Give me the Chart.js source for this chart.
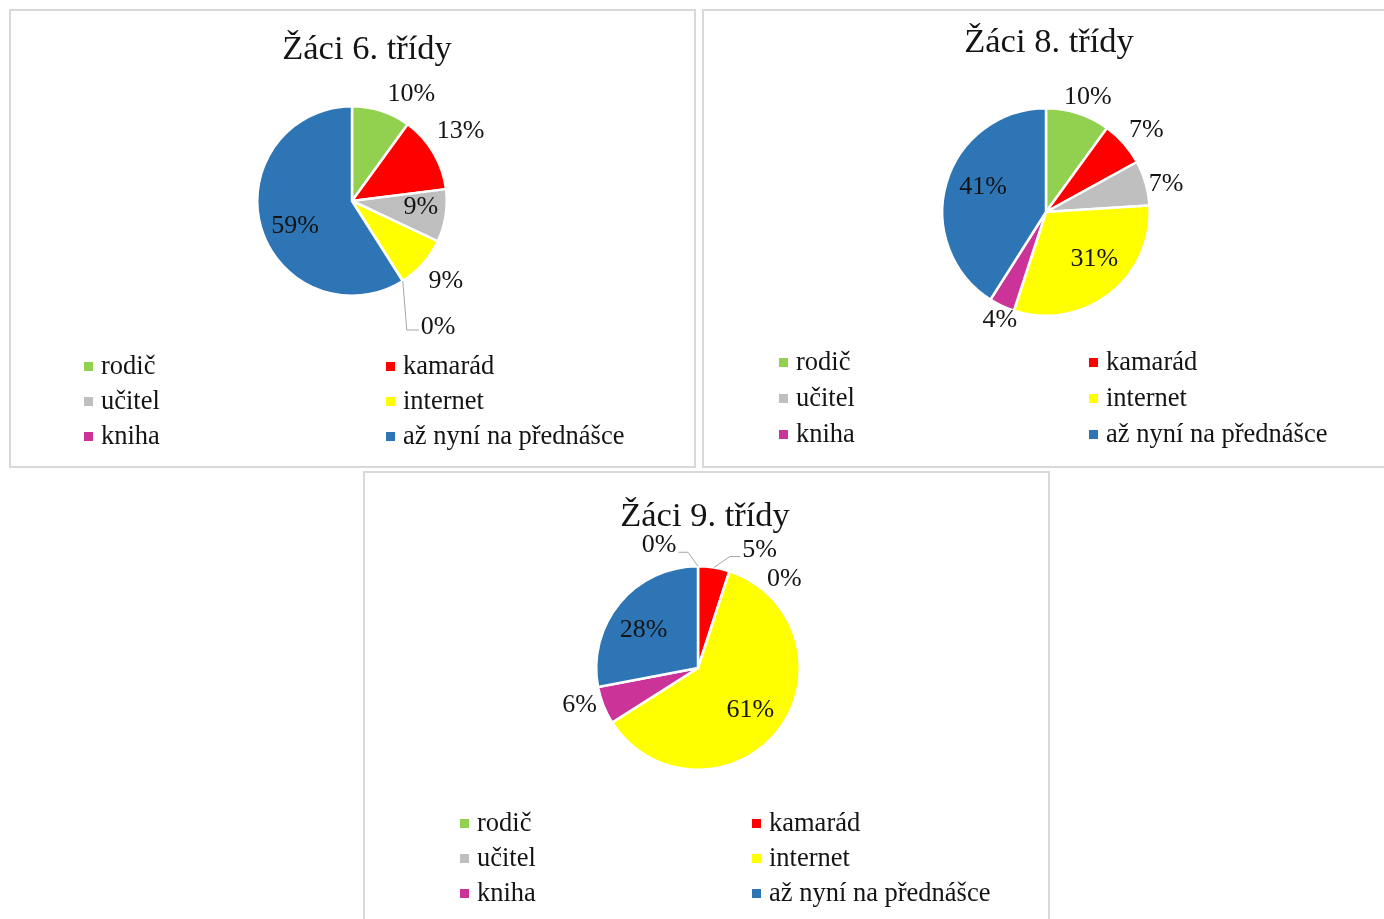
<!DOCTYPE html>
<html>
<head>
<meta charset="utf-8">
<title>Žáci</title>
<script src="https://cdn.jsdelivr.net/npm/chart.js"></script>
<style>
    body { margin: 0; background: #fff; width: 1384px; height: 919px; overflow: hidden; position: relative; }
    canvas, .frame { position: absolute; }
    .frame { border: 2px solid #d9d9d9; box-sizing: border-box; pointer-events: none; }
</style>
</head>
<body>
    <canvas id="c6" width="687" height="459" style="left:9px;top:9px"></canvas>
    <div class="frame" style="left:9px;top:9px;width:687px;height:459px"></div>

    <canvas id="c8" width="700" height="459" style="left:702px;top:9px"></canvas>
    <div class="frame" style="left:702px;top:9px;width:700px;height:459px"></div>

    <canvas id="c9" width="687" height="460" style="left:363px;top:471px"></canvas>
    <div class="frame" style="left:363px;top:471px;width:687px;height:470px"></div>

<script>
const categories = ['rodič', 'kamarád', 'učitel', 'internet', 'kniha', 'až nyní na přednášce'];
const grade6 = [10, 13, 9, 9, 0, 59];
const grade8 = [10, 7, 7, 31, 4, 41];
const grade9 = [0, 5, 0, 61, 6, 28];
const titles = ['Žáci 6. třídy', 'Žáci 8. třídy', 'Žáci 9. třídy'];
const colors = ['#92d050', '#ff0000', '#bfbfbf', '#ffff00', '#cc3399', '#2e75b6'];

const FONT = '"Liberation Serif", "Times New Roman", serif';

// data labels, title and two-column legend, drawn the way Excel lays them out
const excelPie = {
    id: 'excelPie',
    afterDatasetsDraw(chart, args, opts) {
        const ctx = chart.ctx;
        const ds = chart.data.datasets[0];
        const total = ds.data.reduce((a, b) => a + b, 0);
        ctx.save();
        ctx.font = '26px ' + FONT;
        ctx.textAlign = 'center';
        ctx.textBaseline = 'middle';
        chart.getDatasetMeta(0).data.forEach((arc, i) => {
            const p = opts.labels[i];
            const mid = (arc.startAngle + arc.endAngle) / 2;
            const a = mid + p.da * Math.PI / 180;
            const r = arc.outerRadius;
            const lx = arc.x + p.k * r * Math.cos(a);
            const ly = arc.y + p.k * r * Math.sin(a);
            const text = Math.round(ds.data[i] / total * 100) + '%';
            if (p.lead) {
                const ex = arc.x + r * Math.cos(mid), ey = arc.y + r * Math.sin(mid);
                const bx = ex + p.lead[0], by = ey + p.lead[1];
                const w = ctx.measureText(text).width;
                const endX = lx > bx ? lx - w / 2 - 2 : lx + w / 2 + 2;
                ctx.strokeStyle = '#a6a6a6';
                ctx.lineWidth = 1;
                ctx.beginPath();
                ctx.moveTo(ex, ey);
                ctx.lineTo(bx, by);
                ctx.lineTo(endX, by);
                ctx.stroke();
            }
            ctx.fillStyle = '#141414';
            ctx.fillText(text, lx, ly);
        });

        ctx.font = '34.5px ' + FONT;
        ctx.textBaseline = 'alphabetic';
        ctx.fillStyle = '#141414';
        ctx.fillText(opts.title, opts.titleX, opts.titleY);

        ctx.font = '26.5px ' + FONT;
        ctx.textAlign = 'left';
        ctx.textBaseline = 'middle';
        chart.data.labels.forEach((lab, i) => {
            const col = i % 2, row = Math.floor(i / 2);
            const x = opts.legend.x[col], y = opts.legend.y[row];
            ctx.fillStyle = ds.backgroundColor[i];
            ctx.fillRect(x, y - 4, 9, 9);
            ctx.fillStyle = '#141414';
            ctx.fillText(lab, x + 17, y + 1);
        });
        ctx.restore();
    }
};

function makePie(id, values, title, size, pie, labels, titlePos, legend) {
    const [w, h] = size;
    const [cx, cy, r] = pie;
    new Chart(document.getElementById(id), {
        type: 'pie',
        data: {
            labels: categories,
            datasets: [{
                data: values,
                backgroundColor: colors,
                borderColor: '#ffffff',
                borderWidth: 2.5
            }]
        },
        options: {
            responsive: false,
            animation: false,
            events: [],
            layout: {
                padding: { left: cx - r - 1, top: cy - r - 1, right: w - cx - r - 1, bottom: h - cy - r - 1 }
            },
            plugins: {
                legend: { display: false },
                tooltip: { enabled: false },
                excelPie: { title: title, titleX: titlePos[0], titleY: titlePos[1], labels: labels, legend: legend }
            }
        },
        plugins: [excelPie]
    });
}

makePie('c6', grade6, titles[0], [687, 459], [343, 192, 95], [
    { k: 1.29, da: 11 },
    { k: 1.36, da: -2 },
    { k: 0.73, da: -4 },
    { k: 1.30, da: -1 },
    { k: 1.61, da: -2, lead: [4, 49] },
    { k: 0.66, da: -8 }
], [358, 50], { x: [75, 377], y: [357, 392, 427] });

makePie('c8', grade8, titles[1], [700, 459], [344, 203, 104], [
    { k: 1.18, da: 2 },
    { k: 1.25, da: 2 },
    { k: 1.19, da: 3 },
    { k: 0.65, da: -8 },
    { k: 1.13, da: -2 },
    { k: 0.65, da: 5 }
], [347, 43], { x: [77, 387], y: [353, 389, 425] });

makePie('c9', grade9, titles[2], [687, 460], [335, 197, 102], [
    { k: 1.27, da: -17.5, lead: [-10, -14] },
    { k: 1.31, da: 18.5, lead: [16, -11] },
    { k: 1.22, da: 26 },
    { k: 0.66, da: 1 },
    { k: 1.22, da: 4 },
    { k: 0.65, da: -5 }
], [342, 55], { x: [97, 389], y: [352, 387, 422] });
</script>
</body>
</html>
